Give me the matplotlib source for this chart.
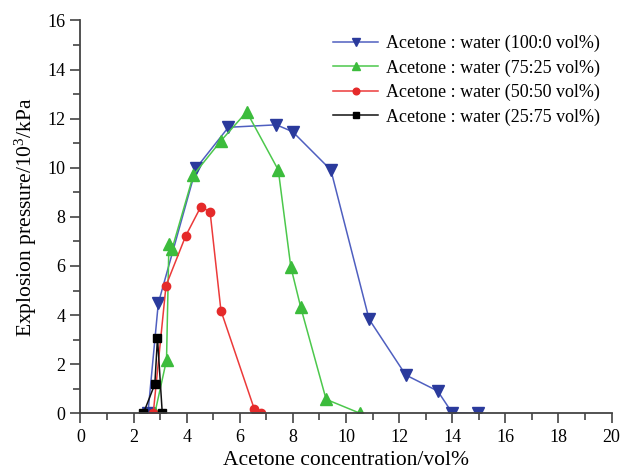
import numpy as np
import matplotlib.pyplot as plt
from matplotlib.ticker import MultipleLocator

plt.rcParams['font.family'] = ['Liberation Serif', 'DejaVu Serif']
plt.rcParams['mathtext.fontset'] = 'custom'
plt.rcParams['mathtext.rm'] = 'Liberation Serif'
plt.rcParams['mathtext.it'] = 'Liberation Serif:italic'

# Acetone : water 100:0
x_100 = [2.54, 2.93, 4.35, 5.57, 7.38, 7.99, 9.43, 10.87, 12.25, 13.45, 14.0, 14.98]
p_100 = [0.0, 4.48, 9.98, 11.65, 11.75, 11.47, 9.91, 3.83, 1.56, 0.91, 0.02, 0.0]

# Acetone : water 75:25
x_75 = [2.8, 3.24, 3.33, 3.45, 4.25, 5.29, 6.26, 7.45, 7.92, 8.29, 9.25, 10.53]
p_75 = [0.0, 2.17, 6.9, 6.7, 9.7, 11.1, 12.28, 9.91, 5.97, 4.34, 0.57, 0.0]

# Acetone : water 50:50
x_50 = [2.74, 3.22, 3.96, 4.53, 4.88, 5.29, 6.55, 6.8]
p_50 = [0.0, 5.2, 7.22, 8.41, 8.21, 4.18, 0.16, 0.0]

# Acetone : water 25:75
x_25 = [2.37, 2.8, 2.9, 3.08]
p_25 = [0.0, 1.19, 3.07, 0.0]

labels = ['Acetone : water (100:0 vol%)', 'Acetone : water (75:25 vol%)',
          'Acetone : water (50:50 vol%)', 'Acetone : water (25:75 vol%)']

fig = plt.figure(figsize=(6.24, 4.71), dpi=100)
ax = fig.add_axes([0.129, 0.1225, 0.851, 0.834])

ax.plot(x_100, p_100, color='#4f5fc0', lw=1.1, marker='v', ms=8,
        mfc='#2a3a9c', mec='#2a3a9c', label=labels[0])
ax.plot(x_75, p_75, color='#4cc84c', lw=1.1, marker='^', ms=8,
        mfc='#3cbc3c', mec='#3cbc3c', label=labels[1])
ax.plot(x_50, p_50, color='#ec3a3a', lw=1.1, marker='o', ms=6,
        mfc='#e52a2a', mec='#e52a2a', label=labels[2])
ax.plot(x_25, p_25, color='#111111', lw=1.1, marker='s', ms=6,
        mfc='black', mec='black', label=labels[3])

ax.set_xlim(0, 20)
ax.set_ylim(0, 16)
ax.xaxis.set_major_locator(MultipleLocator(2))
ax.xaxis.set_minor_locator(MultipleLocator(1))
ax.yaxis.set_major_locator(MultipleLocator(2))
ax.yaxis.set_minor_locator(MultipleLocator(1))

for side in ['top', 'right']:
    ax.spines[side].set_visible(False)
for side in ['left', 'bottom']:
    ax.spines[side].set_color('#444444')
    ax.spines[side].set_linewidth(1.3)
ax.spines['left'].set_bounds(0, 16)
ax.spines['bottom'].set_bounds(0, 20)

ax.tick_params(which='major', direction='out', length=7, width=1.2,
               color='#444444', labelsize=13, pad=4)
ax.tick_params(which='minor', direction='out', length=5, width=1.2,
               color='#444444')
ax.patch.set_alpha(0)

ax.set_xlabel('Acetone concentration/vol%', fontsize=15.5, labelpad=4)
ax.set_ylabel('Explosion pressure/10$^3$/kPa', fontsize=15.5, labelpad=6)

leg = ax.legend(loc='upper left', bbox_to_anchor=(0.534, 0.926),
                bbox_transform=fig.transFigure, frameon=False,
                fontsize=13, handlelength=2.5, handletextpad=0.45,
                labelspacing=0.4, borderpad=0, borderaxespad=0,
                markerscale=0.8)

fig.savefig('out.png', dpi=100)
